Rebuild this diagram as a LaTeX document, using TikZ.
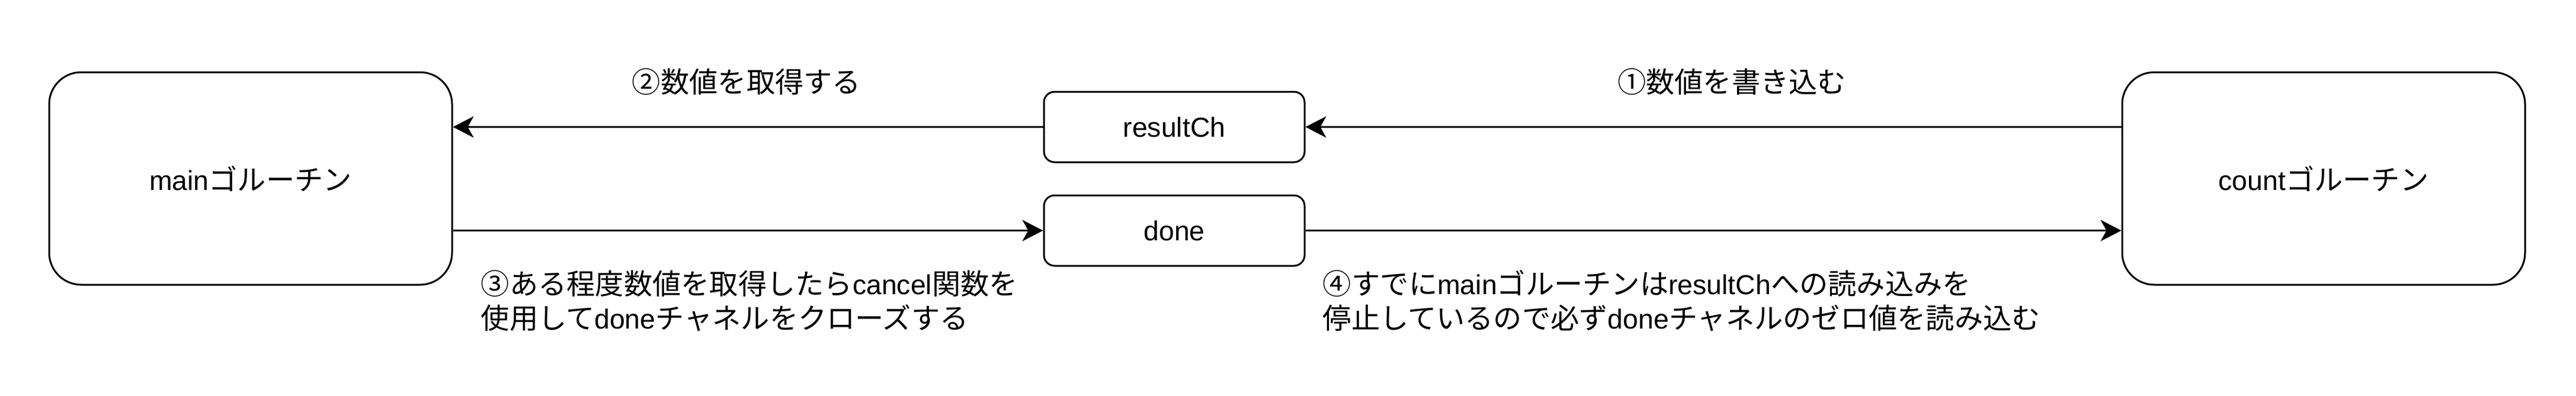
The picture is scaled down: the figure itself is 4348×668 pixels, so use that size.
\documentclass[tikz,border=0pt]{standalone}
\usepackage{fontspec}
\setmainfont{Liberation Sans}
\newfontfamily\cjk[Scale=1.04]{Noto Sans CJK JP}
\usetikzlibrary{arrows.meta}
\begin{document}
\begin{tikzpicture}[x=0.25pt,y=-0.25pt,
  every node/.style={font=\fontsize{11.6}{14.5}\selectfont},
  bigbox/.style={draw,line width=0.75pt,rounded corners=13.5pt,minimum width=170pt,minimum height=89.75pt,inner sep=0pt},
  chbox/.style={draw,line width=0.75pt,rounded corners=4.5pt,minimum width=110pt,minimum height=29.75pt,inner sep=0pt},
  conn/.style={line width=0.75pt,-{Stealth[length=8.75pt,width=9pt,inset=2.5pt]}},
  lbl/.style={inner sep=0pt},
  note/.style={inner sep=0pt,align=left,anchor=base west}]
\useasboundingbox (0,0) rectangle (4348,668);
\node[bigbox] (main) at (423,301.5) {main{\cjk ゴルーチン}};
\node[chbox] (res) at (1982,214.5) {resultCh};
\node[chbox] (done) at (1982,389.5) {done};
\node[bigbox] (count) at (3922,301.5) {count{\cjk ゴルーチン}};
\draw[conn] (res.west) -- (res.west -| main.east);
\draw[conn] (count.west |- res.east) -- (res.east);
\draw[conn] (main.east |- done.west) -- (done.west);
\draw[conn] (done.east) -- (done.east -| count.west);
\node[lbl] (l2) at (1260,138) {\cjk ②数値を取得する};
\node[lbl] (l1) at (2923,138) {\cjk ①数値を書き込む};
\node[note] (l3) at (811,555) {{\cjk ③ある程度数値を取得したら}cancel{\cjk 関数を}\\{\cjk 使用して}done{\cjk チャネルをクローズする}};
\node[note] (l4) at (2232,555) {{\cjk ④すでに}main{\cjk ゴルーチンは}resultCh{\cjk への読み込みを}\\{\cjk 停止しているので必ず}done{\cjk チャネルのゼロ値を読み込む}};
\end{tikzpicture}
\end{document}
